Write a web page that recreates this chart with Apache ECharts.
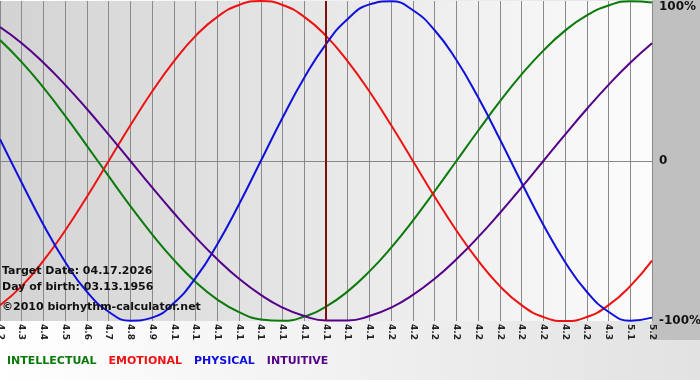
<!DOCTYPE html>
<html><head><meta charset="utf-8">
<script src="https://cdn.jsdelivr.net/npm/echarts@6/dist/echarts.min.js"></script>
<style>html,body{margin:0;padding:0;background:#fff}#c{width:700px;height:380px}</style>
</head><body><div id="c"></div>
<script>
var dates = ['4.2','4.3','4.4','4.5','4.6','4.7','4.8','4.9','4.10','4.11','4.12','4.13','4.14','4.15','4.16','4.17','4.18','4.19','4.20','4.21','4.22','4.23','4.24','4.25','4.26','4.27','4.28','4.29','4.30','5.1','5.2'];
var intellectual = [75.6,61.8,45.8,28.2,9.5,-9.5,-28.2,-45.8,-61.8,-75.6,-86.6,-94.5,-99.0,-99.9,-97.2,-91.0,-81.5,-69.0,-54.1,-37.2,-18.9,0,18.9,37.2,54.1,69.0,81.5,91.0,97.2,99.9,99.0];
var emotional = [-90.1,-78.2,-62.3,-43.4,-22.3,0,22.3,43.4,62.3,78.2,90.1,97.5,100,97.5,90.1,78.2,62.3,43.4,22.3,0,-22.3,-43.4,-62.3,-78.2,-90.1,-97.5,-100,-97.5,-90.1,-78.2,-62.3];
var physical = [13.6,-13.6,-39.8,-63.1,-81.7,-94.2,-99.8,-97.9,-88.8,-73.1,-52.0,-27.0,0,27.0,52.0,73.1,88.8,97.9,99.8,94.2,81.7,63.1,39.8,13.6,-13.6,-39.8,-63.1,-81.7,-94.2,-99.8,-97.9];
var intuitive = [83.7,73.6,61.4,47.6,32.5,16.5,0,-16.5,-32.5,-47.6,-61.4,-73.6,-83.7,-91.6,-96.9,-99.7,-99.7,-96.9,-91.6,-83.7,-73.6,-61.4,-47.6,-32.5,-16.5,0,16.5,32.5,47.6,61.4,73.6];
var yTicks = {'-100':'-100%','0':'0','100':'100%'};
var targetDate = '4.17';
var infoLines = ['Target Date: 04.17.2026','Day of birth: 03.13.1956','\u00a92010 biorhythm-calculator.net'];
var seriesNames = ['INTELLECTUAL','EMOTIONAL','PHYSICAL','INTUITIVE'];
var seriesColors = ['#0a7a0a','#ee1111','#1010dd','#550088'];

var chart = echarts.init(document.getElementById('c'));
var FONT = '"DejaVu Sans", Verdana, sans-serif';
var dataSets = [intellectual, emotional, physical, intuitive];
var series = dataSets.map(function(d, i){
  return {name: seriesNames[i], type:'line', data:d, smooth:true, symbol:'none',
    lineStyle:{color:seriesColors[i], width:2}, itemStyle:{color:seriesColors[i]}, z:3, animation:false};
});
series[0].markLine = {silent:true, symbol:'none', label:{show:false},
  lineStyle:{color:'#801010', width:2, type:'solid'}, data:[{xAxis:targetDate}], animation:false};

chart.setOption({
  animation:false,
  backgroundColor: {type:'linear', x:0, y:0, x2:1, y2:0, colorStops:[{offset:0,color:'#ffffff'},{offset:1,color:'#e2e2e2'}]},
  graphic: [
    {type:'rect', left:652, top:0, shape:{width:48, height:340}, style:{fill:'#c0c0c0'}, z:-10, silent:true}
  ].concat(infoLines.map(function(t,i){
    return {type:'text', left:2, top:[266,282,302][i], z:10, silent:true,
      style:{text:t, font:'bold 11px ' + FONT, fill:'#111'}};
  })),
  grid:{left:0, right:48, top:1, bottom:59, show:true, borderWidth:0, outerBoundsMode:'none', containLabel:false,
    backgroundColor:{type:'linear', x:0, y:0, x2:1, y2:0, colorStops:[{offset:0,color:'#d3d3d3'},{offset:1,color:'#fcfcfc'}]}},
  legend:{data: seriesNames.map(function(n,i){return {name:n, textStyle:{color:seriesColors[i]}};}),
    icon:'none', itemWidth:0, itemHeight:0, itemGap:7, left:2, top:356, padding:0,
    textStyle:{fontFamily:FONT, fontWeight:'bold', fontSize:11}, selectedMode:false},
  xAxis:{type:'category', data:dates, boundaryGap:false,
    axisLine:{show:true, lineStyle:{color:'#888'}},
    axisTick:{show:true, length:4, lineStyle:{color:'#888'}},
    splitLine:{show:true, lineStyle:{color:'#8a8a8a', width:1}},
    axisLabel:{interval:0, rotate:-90, margin:3, fontSize:9, fontWeight:'bold', fontFamily:FONT, color:'#222',
      hideOverlap:false, showMinLabel:true, showMaxLabel:true,
      formatter:function(v){return v.slice(0,3);}}},
  yAxis:{type:'value', min:-100, max:100, interval:100, position:'right',
    axisLine:{show:false}, axisTick:{show:false},
    splitLine:{show:true, lineStyle:{color:['rgba(0,0,0,0)','#8a8a8a','rgba(0,0,0,0)'], width:1}},
    axisLabel:{margin:7, fontSize:12, fontWeight:'bold', fontFamily:FONT, color:'#111',
      verticalAlignMaxLabel:'top',
      formatter:function(v){return yTicks[String(v)];}}},
  series: series
});
</script></body></html>
